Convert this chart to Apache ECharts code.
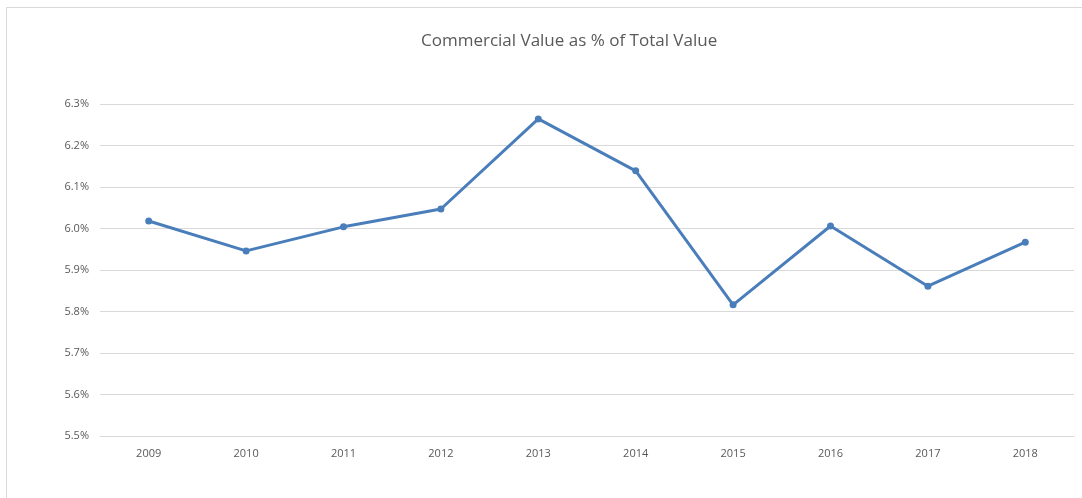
<!DOCTYPE html>
<html>
<head>
<meta charset="utf-8">
<script src="https://cdn.jsdelivr.net/npm/echarts@6/dist/echarts.min.js"></script>
<style>
    html, body { margin: 0; padding: 0; background: #fff; }
    #frame { position: absolute; left: 6px; top: 7px; width: 1082px; height: 500px; border: 1px solid #d9d9d9; box-sizing: border-box; }
    #chart { position: absolute; left: 0; top: 0; width: 1082px; height: 498px; }
</style>
</head>
<body>
<div id="frame"></div>
<div id="chart"></div>
<script>
const years = ['2009', '2010', '2011', '2012', '2013', '2014', '2015', '2016', '2017', '2018'];
const commercialShare = [6.018, 5.946, 6.004, 6.047, 6.264, 6.139, 5.816, 6.006, 5.861, 5.967];

const chart = echarts.init(document.getElementById('chart'));
chart.setOption({
    animation: false,
    title: {
        text: 'Commercial Value as % of Total Value',
        left: 416,
        top: 28,
        textStyle: {
            fontFamily: 'Open Sans',
            fontSize: 17,
            fontWeight: 'normal',
            color: '#595959',
        },
    },
    grid: {
        left: 100,
        right: 8,
        top: 104,
        bottom: 62,
    },
    xAxis: {
        type: 'category',
        data: years,
        boundaryGap: true,
        axisLine: { show: true, lineStyle: { color: '#d9d9d9', width: 1 } },
        axisTick: { show: false },
        axisLabel: {
            margin: 12,
            fontFamily: 'Open Sans',
            fontSize: 11,
            color: '#595959',
        },
    },
    yAxis: {
        type: 'value',
        min: 5.5,
        max: 6.3,
        interval: 0.1,
        axisLine: { show: false },
        axisTick: { show: false },
        splitLine: { lineStyle: { color: '#d9d9d9', width: 1 } },
        axisLabel: {
            margin: 11,
            fontFamily: 'Open Sans',
            fontSize: 11,
            color: '#595959',
            formatter: v => v.toFixed(1) + '%',
        },
    },
    series: [
        {
            type: 'line',
            data: commercialShare,
            symbol: 'circle',
            symbolSize: 7,
            lineStyle: { color: '#4a7ebb', width: 3 },
            itemStyle: { color: '#4a7ebb' },
        },
    ],
});
</script>
</body>
</html>
